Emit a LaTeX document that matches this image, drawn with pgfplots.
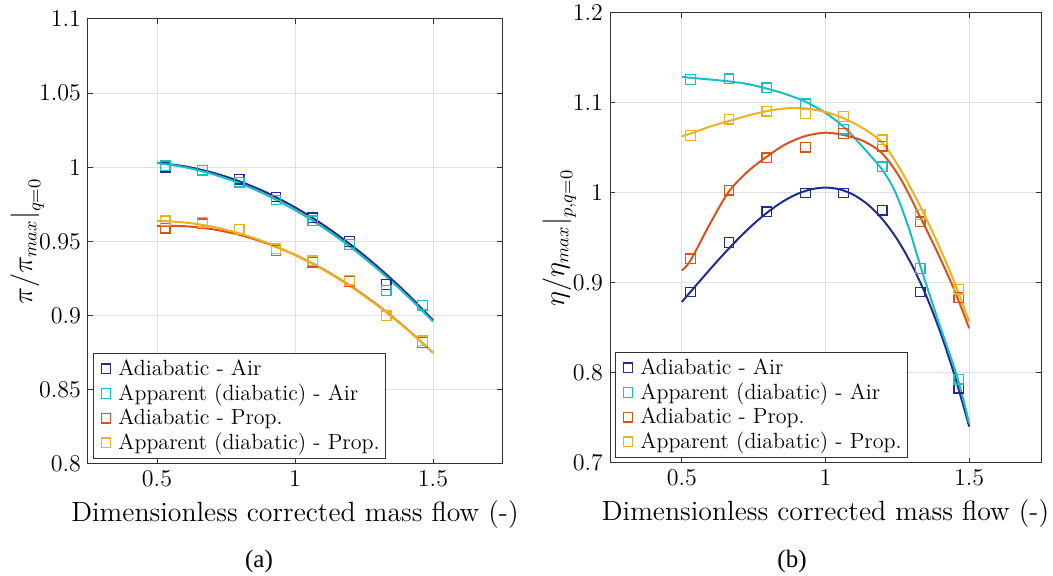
\documentclass[border=0pt]{standalone}
\usepackage{pgfplots}
\pgfplotsset{compat=1.18}
\usepackage{fontspec}
\newfontfamily\capfont{Liberation Serif}

\definecolor{cA}{RGB}{31,45,143}
\definecolor{cB}{RGB}{26,190,194}
\definecolor{cC}{RGB}{217,83,25}
\definecolor{cD}{RGB}{237,177,32}

\pgfplotsset{
  panel/.style={
    scale only axis,
    xmin=0.25, xmax=1.75,
    xtick={0.5,1,1.5},
    grid=major,
    grid style={black!12, line width=0.5pt},
    axis line style={black!80, line width=0.5pt},
    tick style={black!80, line width=0.5pt},
    tick align=inside,
    major tick length=2.5pt,
    xtick pos=both, ytick pos=both,
    ticklabel style={font=\fontsize{11.5}{12}\selectfont},
    ylabel style={font=\fontsize{13.5}{15}\selectfont},
    xlabel style={font=\fontsize{13.9}{15}\selectfont},
    xlabel={Dimensionless corrected mass flow (-)},
    legend style={at={(0,0)}, anchor=south west, xshift=2.5pt, yshift=2.5pt,
      font=\fontsize{11}{13.3}\selectfont, draw=black!80, inner sep=1pt,
      row sep=-1.2pt, nodes={inner xsep=2pt}},
    legend cell align=left,
  },
  pts/.style={only marks, mark=square, mark size=2.4pt, line width=0.65pt, color=#1,
    legend image code/.code={
      \path[draw=none] (0pt,-1pt) rectangle (9.5pt,1pt);
      \draw[##1] plot coordinates {(5.3pt,0pt)};
    }},
  fit/.style={smooth, no markers, line width=1pt, color=#1, forget plot},
}

\begin{document}
\begin{tikzpicture}
\useasboundingbox (0,0) rectangle (526.5pt,288pt);

% (a) pressure ratio
\begin{axis}[panel, at={(44pt,56pt)}, anchor=south west,
  width=207pt, height=222.5pt,
  ymin=0.8, ymax=1.1, ytick={0.8,0.85,0.9,0.95,1,1.05,1.1},
  ylabel style={at={(axis description cs:-0.147,0.5)}, anchor=center},
  ylabel={$\pi/\pi_{max}\big|_{q=0}$}]
\addplot[fit=cA] coordinates {(0.5,1.003) (0.6,1.0007) (0.7,0.9965) (0.8,0.9905) (0.9,0.9827) (1.0,0.9730) (1.1,0.9615) (1.2,0.9481) (1.3,0.9329) (1.4,0.9159) (1.5,0.8970)};
\addplot[fit=cB] coordinates {(0.5,1.003) (0.6,1.0001) (0.7,0.9955) (0.8,0.9892) (0.9,0.9811) (1.0,0.9712) (1.1,0.9597) (1.2,0.9464) (1.3,0.9313) (1.4,0.9145) (1.5,0.8960)};
\addplot[fit=cC] coordinates {(0.5,0.9605) (0.6,0.9603) (0.7,0.9583) (0.8,0.9544) (0.9,0.9486) (1.0,0.9410) (1.1,0.9315) (1.2,0.9202) (1.3,0.9070) (1.4,0.8919) (1.5,0.8750)};
\addplot[fit=cD] coordinates {(0.5,0.9640) (0.6,0.9628) (0.7,0.9600) (0.8,0.9554) (0.9,0.9490) (1.0,0.9410) (1.1,0.9312) (1.2,0.9198) (1.3,0.9066) (1.4,0.8917) (1.5,0.8750)};
\addplot[pts=cA] coordinates {(0.530,1.000) (0.665,0.998) (0.798,0.992) (0.931,0.980) (1.064,0.966) (1.197,0.950) (1.330,0.921) (1.462,0.907)};
\addplot[pts=cB] coordinates {(0.530,1.001) (0.665,0.998) (0.798,0.990) (0.931,0.978) (1.064,0.964) (1.197,0.948) (1.330,0.917) (1.462,0.907)};
\addplot[pts=cC] coordinates {(0.530,0.959) (0.665,0.962) (0.798,0.958) (0.931,0.944) (1.064,0.936) (1.197,0.923) (1.330,0.900) (1.462,0.882)};
\addplot[pts=cD] coordinates {(0.530,0.964) (0.665,0.963) (0.798,0.958) (0.931,0.945) (1.064,0.937) (1.197,0.924) (1.330,0.900) (1.462,0.883)};
\legend{Adiabatic - Air, Apparent (diabatic) - Air, Adiabatic - Prop., Apparent (diabatic) - Prop.}
\end{axis}

% (b) efficiency
\begin{axis}[panel, at={(305pt,56.5pt)}, anchor=south west,
  width=215.5pt, height=225pt,
  ymin=0.7, ymax=1.2, ytick={0.7,0.8,0.9,1,1.1,1.2},
  ylabel style={at={(axis description cs:-0.118,0.5)}, anchor=center},
  ylabel={$\eta/\eta_{max}\big|_{p,q=0}$}]
\addplot[fit=cA] coordinates {(0.50,0.8790) (0.55,0.8975) (0.60,0.9159) (0.65,0.9336) (0.70,0.9503) (0.75,0.9656) (0.80,0.9790) (0.85,0.9902) (0.90,0.9987) (0.95,1.0041) (1.00,1.0060) (1.05,1.0040) (1.10,0.9976) (1.15,0.9865) (1.20,0.9702) (1.25,0.9483) (1.30,0.9204) (1.35,0.8861) (1.40,0.8449) (1.45,0.7966) (1.50,0.7405)};
\addplot[fit=cB] coordinates {(0.50,1.129) (0.53,1.128) (0.60,1.126) (0.664,1.124) (0.73,1.121) (0.796,1.116) (0.86,1.110) (0.93,1.1015) (1.0,1.089) (1.063,1.0735) (1.13,1.051) (1.197,1.026) (1.243,1.001) (1.29,0.961) (1.33,0.919) (1.388,0.862) (1.458,0.796) (1.5,0.744)};
\addplot[fit=cC] coordinates {(0.50,0.914) (0.53,0.925) (0.60,0.967) (0.664,1.0017) (0.73,1.024) (0.796,1.0404) (0.86,1.054) (0.93,1.0633) (1.0,1.067) (1.063,1.0644) (1.13,1.058) (1.197,1.044) (1.261,1.016) (1.33,0.973) (1.388,0.935) (1.446,0.894) (1.5,0.8497)};
\addplot[fit=cD] coordinates {(0.50,1.063) (0.53,1.066) (0.60,1.074) (0.664,1.080) (0.73,1.086) (0.796,1.091) (0.86,1.094) (0.93,1.094) (1.0,1.090) (1.063,1.083) (1.13,1.072) (1.197,1.056) (1.261,1.026) (1.33,0.985) (1.388,0.946) (1.446,0.903) (1.5,0.857)};
\addplot[pts=cA] coordinates {(0.530,0.890) (0.664,0.945) (0.796,0.979) (0.930,1.000) (1.063,1.000) (1.197,0.981) (1.330,0.890) (1.464,0.783)};
\addplot[pts=cB] coordinates {(0.530,1.126) (0.664,1.127) (0.796,1.117) (0.930,1.099) (1.063,1.071) (1.197,1.029) (1.330,0.916) (1.464,0.793)};
\addplot[pts=cC] coordinates {(0.530,0.927) (0.664,1.003) (0.796,1.039) (0.930,1.051) (1.063,1.066) (1.197,1.052) (1.330,0.968) (1.464,0.884)};
\addplot[pts=cD] coordinates {(0.530,1.064) (0.664,1.082) (0.796,1.091) (0.930,1.088) (1.063,1.085) (1.197,1.059) (1.330,0.976) (1.464,0.893)};
\legend{Adiabatic - Air, Apparent (diabatic) - Air, Adiabatic - Prop., Apparent (diabatic) - Prop.}
\end{axis}

\node[font=\capfont\fontsize{12.5}{14}\selectfont] at (129.5pt,7.5pt) {(a)};
\node[font=\capfont\fontsize{12.5}{14}\selectfont] at (396pt,7.5pt) {(b)};
\end{tikzpicture}
\end{document}
